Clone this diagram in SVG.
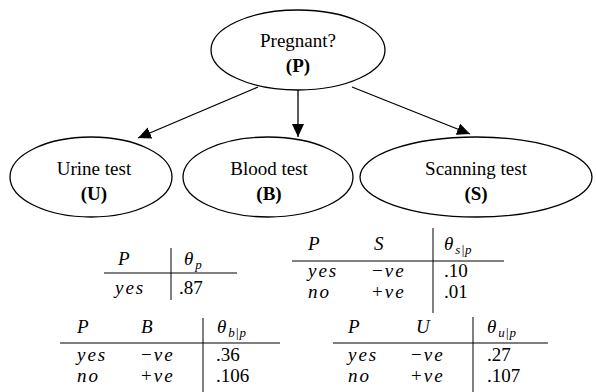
<svg xmlns="http://www.w3.org/2000/svg" width="596" height="392" viewBox="0 0 596 392">
<defs>
<marker id="ah" markerUnits="userSpaceOnUse" markerWidth="14" markerHeight="12" refX="13" refY="6" orient="auto">
<path d="M0,0 L13,6 L0,12 Z" fill="#000"/>
</marker>
<style>
.node ellipse{fill:#fff;stroke:#000;stroke-width:1.3}
.t{font-family:"Liberation Serif","Times New Roman",serif;font-size:19px;text-anchor:middle;fill:#000}
.b{font-weight:bold}
.edge{stroke:#000;stroke-width:1.3;fill:none;marker-end:url(#ah)}
.tab{font-family:"Liberation Serif","Times New Roman",serif;font-size:19px;fill:#000}
.i{font-style:italic;letter-spacing:2px;font-size:19px}
.sub{font-size:13px;font-style:italic;letter-spacing:0.5px}
.rule{stroke:#000;stroke-width:1}
</style>
</defs>
<rect width="596" height="392" fill="#fff"/>
<g id="edges">
<line class="edge" x1="258" y1="87" x2="138" y2="138"/>
<line class="edge" x1="298" y1="90" x2="298" y2="137"/>
<line class="edge" x1="352" y1="87" x2="470" y2="134"/>
</g>
<g id="nodeP" class="node">
<ellipse cx="298" cy="50" rx="87" ry="40"/>
<text class="t" x="298" y="47">Pregnant?</text>
<text class="t b" x="298" y="72">(P)</text>
</g>
<g id="nodeU" class="node">
<ellipse cx="91" cy="177" rx="81" ry="40"/>
<text class="t" x="94" y="175">Urine test</text>
<text class="t b" x="94" y="200">(U)</text>
</g>
<g id="nodeB" class="node">
<ellipse cx="268" cy="177" rx="85" ry="40"/>
<text class="t" x="269" y="175">Blood test</text>
<text class="t b" x="269" y="200">(B)</text>
</g>
<g id="nodeS" class="node">
<ellipse cx="476" cy="177" rx="116" ry="40"/>
<text class="t" x="476" y="175">Scanning test</text>
<text class="t b" x="476" y="200">(S)</text>
</g>
<g id="tableP">
<line class="rule" x1="171" y1="248" x2="171" y2="300"/>
<line class="rule" x1="104" y1="273" x2="237" y2="273"/>
<text class="tab i" x="118" y="265">P</text>
<text class="tab" x="184" y="265"><tspan class="i">θ</tspan><tspan class="sub" dy="4">p</tspan></text>
<text class="tab i" x="115" y="294">yes</text>
<text class="tab" x="179" y="294">.87</text>
</g>
<g id="tableS">
<line class="rule" x1="433" y1="228" x2="433" y2="313"/>
<line class="rule" x1="292" y1="261" x2="504" y2="261"/>
<text class="tab i" x="308" y="250">P</text>
<text class="tab i" x="374" y="250">S</text>
<text class="tab" x="444" y="250"><tspan class="i">θ</tspan><tspan class="sub" dy="4">s|p</tspan></text>
<text class="tab i" x="308" y="277">yes</text>
<text class="tab" x="372" y="277">−<tspan class="i" dx="2">ve</tspan></text>
<text class="tab" x="444" y="277">.10</text>
<text class="tab i" x="308" y="298">no</text>
<text class="tab" x="372" y="298">+<tspan class="i" dx="2">ve</tspan></text>
<text class="tab" x="444" y="298">.01</text>
</g>
<g id="tableB">
<line class="rule" x1="203" y1="318" x2="203" y2="392"/>
<line class="rule" x1="60" y1="343" x2="280" y2="343"/>
<text class="tab i" x="77" y="333">P</text>
<text class="tab i" x="141" y="333">B</text>
<text class="tab" x="217" y="333"><tspan class="i">θ</tspan><tspan class="sub" dy="4">b|p</tspan></text>
<text class="tab i" x="77" y="361">yes</text>
<text class="tab" x="141" y="361">−<tspan class="i" dx="2">ve</tspan></text>
<text class="tab" x="216" y="361">.36</text>
<text class="tab i" x="77" y="382">no</text>
<text class="tab" x="141" y="382">+<tspan class="i" dx="2">ve</tspan></text>
<text class="tab" x="216" y="382">.106</text>
</g>
<g id="tableU">
<line class="rule" x1="473" y1="317" x2="473" y2="392"/>
<line class="rule" x1="333" y1="343" x2="548" y2="343"/>
<text class="tab i" x="348" y="333">P</text>
<text class="tab i" x="416" y="333">U</text>
<text class="tab" x="487" y="333"><tspan class="i">θ</tspan><tspan class="sub" dy="4">u|p</tspan></text>
<text class="tab i" x="348" y="361">yes</text>
<text class="tab" x="411" y="361">−<tspan class="i" dx="2">ve</tspan></text>
<text class="tab" x="487" y="361">.27</text>
<text class="tab i" x="348" y="382">no</text>
<text class="tab" x="411" y="382">+<tspan class="i" dx="2">ve</tspan></text>
<text class="tab" x="487" y="382">.107</text>
</g>
</svg>
